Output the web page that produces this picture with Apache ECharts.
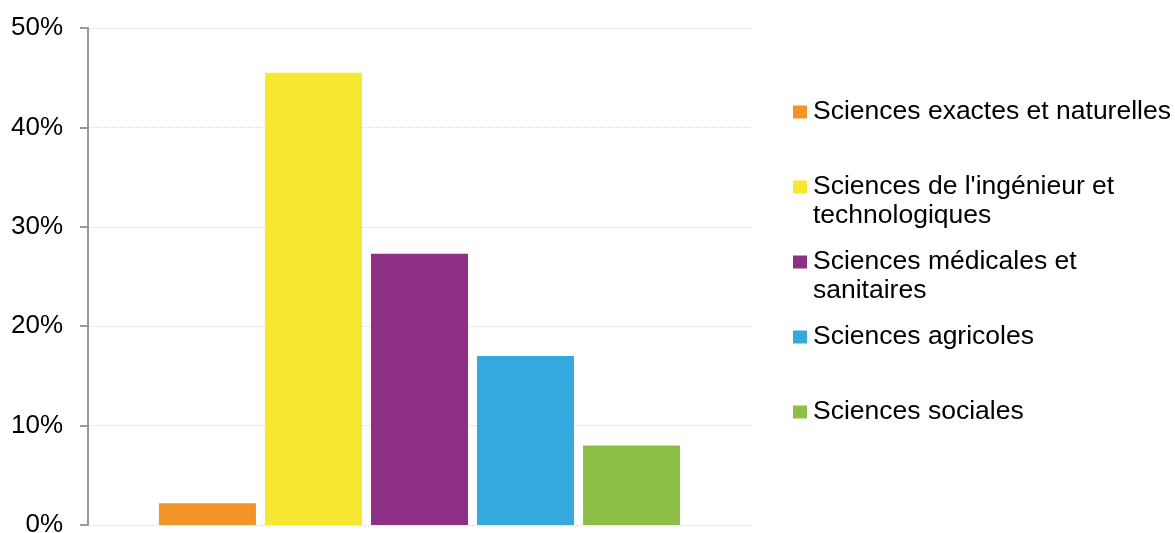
<!DOCTYPE html>
<html>
<head>
<meta charset="utf-8">
<script src="https://cdn.jsdelivr.net/npm/echarts@6/dist/echarts.min.js"></script>
<style>
html,body{margin:0;padding:0;background:#fff;}
#c{width:1175px;height:533px;}
</style>
</head>
<body>
<div id="c"></div>
<script>
// Data
const categories = [''];
const seriesNames = [
  'Sciences exactes et naturelles',
  "Sciences de l'ingénieur et\ntechnologiques",
  'Sciences médicales et\nsanitaires',
  'Sciences agricoles',
  'Sciences sociales'
];
const seriesValues = [2.2, 45.5, 27.3, 17.0, 8.0];
const seriesColors = ['#F29427', '#F7E731', '#8D2F85', '#33A9E0', '#8DBF47'];
const yTicks = { min: 0, max: 50, interval: 10 };

const FONT = "'Liberation Sans', Arial, sans-serif";
const legendCenters = [112, 187, 262, 337, 412];
const LH = 29;

const legends = seriesNames.map((name, i) => {
  const lines = name.split('\n').length;
  return {
    orient: 'vertical',
    left: 793,
    top: lines > 1 ? legendCenters[i] - LH * 1.5 : legendCenters[i] - LH / 2,
    padding: 0,
    itemWidth: 14,
    itemHeight: 13,
    icon: 'rect',
    selectedMode: false,
    data: [name],
    formatter: n => (n.indexOf('\n') >= 0 ? '\n' + n : n),
    textStyle: { fontFamily: FONT, fontSize: 26.5, color: '#000', lineHeight: LH, padding: [0, 0, 0, 1] }
  };
});

const chart = echarts.init(document.getElementById('c'));
chart.setOption({
  animation: false,
  backgroundColor: '#fff',
  legend: legends,
  grid: { left: 88, right: 424, top: 28, bottom: 8, containLabel: false, outerBoundsMode: 'none' },
  xAxis: {
    type: 'category',
    data: categories,
    axisLine: { show: false },
    axisTick: { show: false },
    axisLabel: { show: false },
    splitLine: { show: false }
  },
  yAxis: {
    type: 'value',
    min: yTicks.min, max: yTicks.max, interval: yTicks.interval,
    axisLine: { show: true, lineStyle: { color: '#999', width: 2 } },
    axisTick: { show: true, length: 8, lineStyle: { color: '#999', width: 2 } },
    axisLabel: { formatter: '{value}%', fontFamily: FONT, fontSize: 26, color: '#000', margin: 25 },
    splitLine: { show: true, lineStyle: { color: '#e4e4e4', width: 1, type: [3, 1] } }
  },
  series: seriesNames.map((name, i) => ({
    name: name,
    type: 'bar',
    barWidth: 97,
    barGap: '9.3%',
    itemStyle: { color: seriesColors[i] },
    data: [seriesValues[i]]
  }))
});
</script>
</body>
</html>
